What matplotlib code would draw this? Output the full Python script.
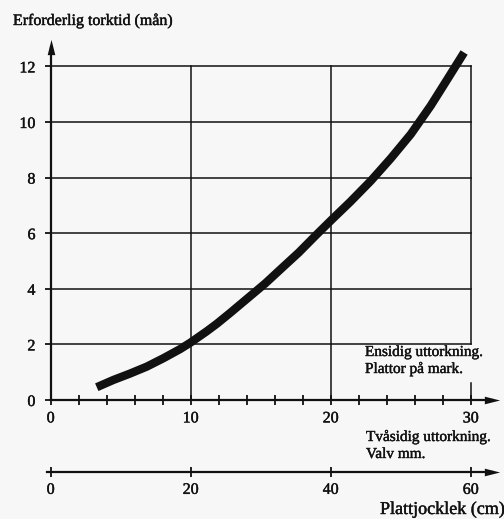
import matplotlib
matplotlib.use('Agg')
import matplotlib.pyplot as plt
import matplotlib.patheffects as pe

# ---- data ----
curve_x = [3.29, 4.47, 5.66, 6.86, 8.04, 9.24, 10.0, 11.14, 11.86, 12.86, 14.16,
           15.34, 16.52, 17.71, 18.89, 20.1, 21.4, 22.86, 24.29, 25.72, 27.15,
           28.35, 29.53]
curve_y = [0.46, 0.72, 0.95, 1.20, 1.50, 1.83, 2.07, 2.47, 2.74, 3.15, 3.70,
           4.20, 4.75, 5.30, 5.90, 6.50, 7.13, 7.88, 8.69, 9.56, 10.59,
           11.55, 12.50]
x_major = [0, 10, 20, 30]
x_minor = list(range(0, 31, 2))
y_ticks = [0, 2, 4, 6, 8, 10, 12]
x2_ticks = [0, 20, 40, 60]
title = "Erforderlig torktid (mån)"
label1a = "Ensidig uttorkning."
label1b = "Plattor på mark."
label2a = "Tvåsidig uttorkning."
label2b = "Valv mm."
xlabel = "Plattjocklek (cm)"

W, H = 504, 519
FONT = ['Liberation Serif', 'DejaVu Serif']
INK = '#111111'
plt.rcParams['font.family'] = FONT
plt.rcParams['font.size'] = 11
BOLDISH = [pe.withStroke(linewidth=0.3, foreground=INK)]

fig = plt.figure(figsize=(W / 100, H / 100), dpi=100)
fig.patch.set_facecolor('#f7f7f7')

px_x0, sx, px_y0, sy = 50.7, 14.0, 400.0, 27.8
xmax = (W - px_x0) / sx
ymax = px_y0 / sy


def fx(p):
    return p / W


def fy(p):
    return 1 - p / H


up_head = [(-0.5, -1), (0, 1), (0.5, -1), (-0.5, -1)]
right_head = [(-1, -0.5), (1, 0), (-1, 0.5), (-1, -0.5)]

ax = fig.add_axes([fx(px_x0), fy(px_y0), 1 - fx(px_x0), px_y0 / H])
ax.set_facecolor('none')
ax.set_xlim(0, xmax)
ax.set_ylim(0, ymax)
for s in ['top', 'right']:
    ax.spines[s].set_visible(False)
for s in ['bottom', 'left']:
    ax.spines[s].set_linewidth(1.6)
    ax.spines[s].set_color(INK)
ax.spines['bottom'].set_bounds(0, 31.5)
ax.spines['left'].set_bounds(0, 12.7)
ax.plot([31.5], [0], marker=right_head, ms=11, color=INK, clip_on=False, mew=0)
ax.plot([0], [12.7], marker=up_head, ms=11, color=INK, clip_on=False, mew=0)

ax.set_xticks(x_major)
ax.set_xticks(x_minor, minor=True)
ax.tick_params(axis='x', which='both', direction='inout', length=7, width=1.3,
               color=INK, labelcolor=INK, pad=4, labelsize=11.5)
ax.set_yticks(y_ticks)
ax.tick_params(axis='y', direction='out', length=4, width=1.3, color=INK,
               labelcolor=INK, pad=7, labelsize=11.5)
for lab in ax.get_xticklabels() + ax.get_yticklabels():
    lab.set_path_effects(BOLDISH)

# grid
for yv in y_ticks[1:]:
    ax.plot([0, 30], [yv, yv], color=INK, lw=1.1)
for xv in x_major[1:3]:
    ax.plot([xv, xv], [0, 12], color=INK, lw=1.1)
ax.plot([30, 30], [2, 12], color=INK, lw=1.1)
ax.plot([30, 30], [0, 0.6], color=INK, lw=1.1)

# curve
ax.plot(curve_x, curve_y, color=INK, lw=6.0, solid_capstyle='butt',
        solid_joinstyle='round', clip_on=False)

# secondary axis
ax2 = fig.add_axes([fx(px_x0), fy(472), 1 - fx(px_x0), 0.001])
ax2.set_facecolor('none')
ax2.set_xlim(0, 2 * xmax)
ax2.set_yticks([])
for s in ['top', 'right', 'left']:
    ax2.spines[s].set_visible(False)
ax2.spines['bottom'].set_linewidth(1.6)
ax2.spines['bottom'].set_color(INK)
ax2.spines['bottom'].set_bounds(-0.5, 63.0)
ax2.plot([63.0], [0], marker=right_head, ms=11, color=INK, clip_on=False, mew=0)
ax2.set_xticks(x2_ticks)
ax2.tick_params(axis='x', direction='inout', length=7, width=1.3, color=INK,
                labelcolor=INK, pad=3.6, labelsize=11.5)
for lab in ax2.get_xticklabels():
    lab.set_path_effects(BOLDISH)

# texts
kw = dict(ha='left', va='baseline', color=INK, path_effects=BOLDISH)
fig.text(fx(13), fy(25), title, fontsize=11.5, **kw)
fig.text(fx(365), fy(356), label1a, fontsize=11, **kw)
fig.text(fx(365), fy(373), label1b, fontsize=11, **kw)
fig.text(fx(366), fy(441), label2a, fontsize=11, **kw)
fig.text(fx(366), fy(458), label2b, fontsize=11, **kw)
fig.text(fx(380), fy(514), xlabel, fontsize=13, **kw)

fig.savefig('out.png', dpi=100, facecolor=fig.get_facecolor())
